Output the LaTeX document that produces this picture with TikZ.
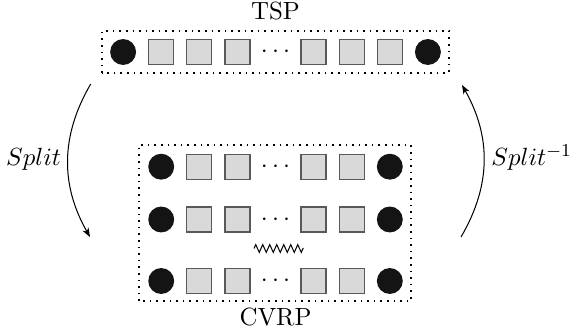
\documentclass[tikz,border=0pt]{standalone}
\usetikzlibrary{arrows.meta,decorations.pathmorphing}
\definecolor{cellgray}{HTML}{D9D9D9}
\definecolor{depotblack}{HTML}{141414}
\begin{document}
\begin{tikzpicture}[x=0.44pt,y=0.44pt,
  font=\fontsize{10.95}{13}\selectfont,
  cell/.style={draw=black!65, line width=0.55pt, fill=cellgray, minimum size=11pt, inner sep=0pt},
  depot/.style={circle, fill=depotblack, minimum size=11.4pt, inner sep=0pt},
  frame/.style={line width=0.7pt, dash pattern=on 0.7pt off 2.2pt},
  flow/.style={line width=0.45pt, -{Stealth[length=4pt,width=3pt,inset=1.2pt]}},
  gaps/.style={anchor=base, inner sep=0pt},
  title/.style={anchor=base, inner sep=0pt},
]
\useasboundingbox (0,0) rectangle (570,334);

% single giant tour
\draw[frame] (102,261) rectangle (449,303);
\node[title] (tsplabel) at (275.5,314) {TSP};
\foreach \i/\kind in {0/depot,1/cell,2/cell,3/cell,5/cell,6/cell,7/cell,8/depot}
  \node[\kind] (t\i) at ({123.1+38.1*\i},282) {};
\node[gaps] (tdots) at (275.5,276.3) {$\cdots$};

% set of vehicle routes
\draw[frame] (139,33) rectangle (411,189);
\node[title] (cvrplabel) at (275.5,8.5) {CVRP};
\foreach \r/\y in {1/167.3,2/114.5,3/53} {
  \foreach \i/\kind in {0/depot,1/cell,2/cell,4/cell,5/cell,6/depot}
    \node[\kind] (r\r c\i) at ({161.2+38.1*\i},\y) {};
  \node[gaps] (r\r dots) at (275.5,\y-5.7) {$\cdots$};
}
\draw[line width=0.45pt, decorate, decoration={zigzag, segment length=3.08pt, amplitude=1.7pt}]
  (254,85.5) -- (303.5,85.5);

% transformations between the two representations
\coordinate (splitfrom) at (90.7,250);
\coordinate (splitto) at (90,97);
\coordinate (invfrom) at (461,97);
\coordinate (invto) at (462,249);
\draw[flow] (splitfrom) to[bend right=30] (splitto);
\draw[flow] (invfrom) to[bend right=30] (invto);
\node[anchor=base, inner sep=0pt] (splitlabel) at (33.5,168.5) {$Split$};
\node[anchor=base west, inner sep=0pt] (invlabel) at (491,168.5) {$Split^{-1}$};
\end{tikzpicture}
\end{document}
